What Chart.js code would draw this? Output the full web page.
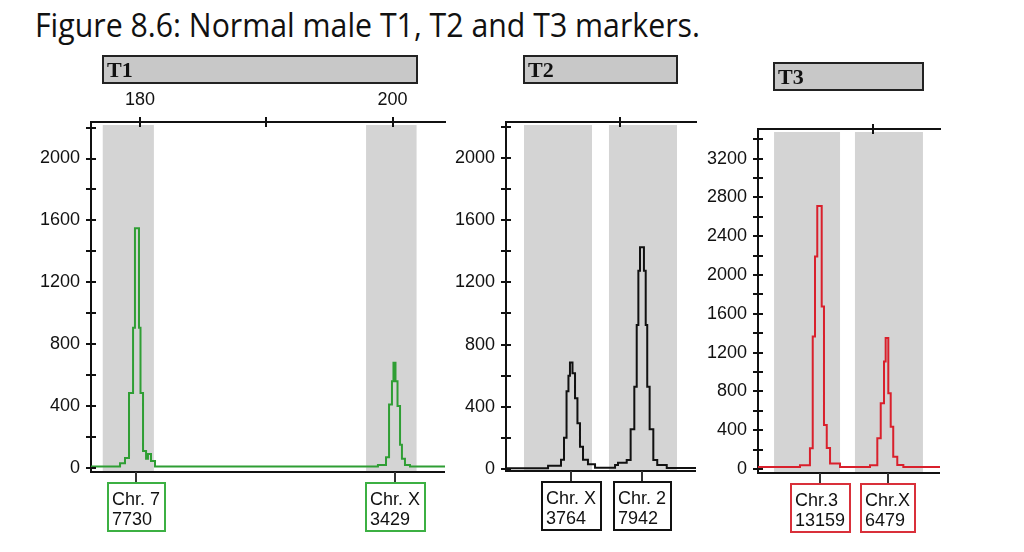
<!DOCTYPE html>
<html>
<head>
<meta charset="utf-8">
<script src="https://cdn.jsdelivr.net/npm/chart.js"></script>
<style>
  body { margin: 0; background: #fff; }
  #page { position: relative; width: 1024px; height: 552px; overflow: hidden; background: #fff; }
  #page canvas { position: absolute; left: 0; top: 0; }
  #caption { position: absolute; left: 35px; top: 2px; font-family: "Open Sans"; font-size: 33px; color: #111; white-space: nowrap; transform-origin: 0 0; }
</style>
</head>
<body>
<div id="page">
  <div id="caption">Figure 8.6: Normal male T1, T2 and T3 markers.</div>
  <canvas id="t1" width="1024" height="552"></canvas>
  <canvas id="t2" width="1024" height="552"></canvas>
  <canvas id="t3" width="1024" height="552"></canvas>
</div>
<script>
// T1 trace (size in bp, signal in RFU), step starts
const t1Bp  = [176.12, 178.42, 178.81, 179.13, 179.45, 179.60, 179.92, 180.04, 180.24, 180.48, 180.63, 180.87, 181.19,
               198.84, 199.48, 199.72, 199.95, 200.07, 200.23, 200.39, 200.59, 200.74, 200.98, 201.38, 204.15];
const t1Rfu = [10, 30, 65, 485, 906, 1550, 906, 485, 110, 60, 90, 45, 10,
               20, 70, 410, 560, 680, 560, 400, 150, 60, 20, 10, 10];
const t1Bins = [[177.05, 181.1], [197.9, 201.9]];
const t1Peaks = [179.68, 200.16];
const t1Names = ['Chr. 7', 'Chr. X'];
const t1Areas = ['7730', '3429'];
const t1SizeLabels = [180, 200];

// T2
const t2Bp  = [251.00, 254.32, 255.34, 255.58, 255.78, 255.93, 256.05, 256.25, 256.45, 256.64, 256.84, 257.08, 257.47, 258.03,
               259.61, 259.84, 260.53, 260.84, 261.13, 261.32, 261.45, 261.58, 261.89, 262.03, 262.15, 262.34, 262.63, 262.94, 263.69, 266.00];
const t2Rfu = [5, 20, 60, 200, 500, 600, 684, 615, 455, 294, 143, 60, 30, 8,
               26, 40, 58, 255, 529, 926, 1275, 1426, 1275, 926, 529, 255, 58, 26, 6, 6];
const t2Bins = [[252.42, 257.79], [259.13, 264.5]];
const t2Peaks = [256.13, 261.74];
const t2Names = ['Chr. X', 'Chr. 2'];
const t2Areas = ['3764', '7942'];
const t2SizeLabels = [];

// T3
const t3Bp  = [140.90, 144.22, 145.01, 145.23, 145.41, 145.59, 145.94, 146.12, 146.34, 146.60, 147.39,
               149.76, 150.34, 150.61, 150.87, 151.00, 151.21, 151.40, 151.60, 151.92, 152.40, 155.30];
const t3Rfu = [20, 40, 213, 1366, 2192, 2710, 1675, 454, 217, 58, 20,
               40, 317, 678, 1108, 1350, 781, 437, 127, 41, 20, 20];
const t3Bins = [[142.17, 147.39], [148.57, 153.95]];
const t3Peaks = [145.8, 151.19];
const t3Names = ['Chr.3', 'Chr.X'];
const t3Areas = ['13159', '6479'];
const t3SizeLabels = [];

Chart.defaults.font.family = '"Liberation Sans"';

// bins, marker bar, inner tick halves, bottom rule and allele boxes
const decor = {
  id: 'decor',
  beforeDatasetsDraw(chart, args, o) {
    const { ctx, chartArea: a, scales: { x } } = chart;
    ctx.save();
    ctx.fillStyle = '#d4d4d4';
    o.bins.forEach(([b0, b1]) => {
      const x0 = x.getPixelForValue(b0), x1 = x.getPixelForValue(b1);
      ctx.fillRect(x0, a.top + 3, x1 - x0, a.bottom - a.top - 3);
    });
    ctx.restore();
  },
  afterDraw(chart, args, o) {
    const { ctx, chartArea: a, scales: { x, y } } = chart;
    ctx.save();
    ctx.strokeStyle = '#111';
    ctx.lineWidth = 2;
    ctx.beginPath();
    y.ticks.forEach(t => {
      const py = Math.round(y.getPixelForValue(t.value));
      ctx.moveTo(a.left, py); ctx.lineTo(a.left + 5, py);
    });
    x.ticks.forEach(t => {
      const px = Math.round(x.getPixelForValue(t.value));
      ctx.moveTo(px, a.top); ctx.lineTo(px, a.top + 5);
    });
    ctx.moveTo(a.left, a.bottom); ctx.lineTo(a.right, a.bottom);
    ctx.stroke();

    const b0 = Math.round(x.getPixelForValue(o.bins[0][0]));
    const b1 = Math.round(x.getPixelForValue(o.bins[o.bins.length - 1][1]));
    const barTop = Math.round(a.top - 66);
    ctx.fillStyle = '#c8c8c8';
    ctx.fillRect(b0, barTop, b1 - b0, 27);
    ctx.strokeStyle = '#222';
    ctx.strokeRect(b0, barTop, b1 - b0, 27);
    ctx.fillStyle = '#111';
    ctx.font = 'bold 22px "Liberation Serif"';
    ctx.fillText(o.marker, b0 + 4, barTop + 21);

    ctx.font = '18px "Liberation Sans"';
    o.peaks.forEach((p, i) => {
      const px = Math.round(x.getPixelForValue(p));
      const w = Math.round(Math.max(ctx.measureText(o.names[i]).width, ctx.measureText(o.areas[i]).width) + 9);
      const bx = Math.round(px - w / 2), by = Math.round(a.bottom + 11);
      ctx.strokeStyle = '#333';
      ctx.beginPath(); ctx.moveTo(px, a.bottom); ctx.lineTo(px, by); ctx.stroke();
      ctx.fillStyle = '#fff';
      ctx.fillRect(bx, by, w, 48);
      ctx.strokeStyle = o.boxColor;
      ctx.strokeRect(bx, by, w, 48);
      ctx.fillStyle = '#111';
      ctx.fillText(o.names[i], bx + 4, by + 22);
      ctx.fillText(o.areas[i], bx + 4, by + 42);
    });
    ctx.restore();
  }
};

function panel(id, c) {
  const tickFont = { family: '"Liberation Sans"', size: 18 };
  new Chart(document.getElementById(id), {
    type: 'line',
    data: {
      datasets: [{
        data: c.bp.map((v, i) => ({ x: v, y: c.rfu[i] })),
        borderColor: c.color,
        borderWidth: 2,
        pointRadius: 0,
        stepped: true,
        fill: false
      }]
    },
    options: {
      responsive: false,
      animation: false,
      devicePixelRatio: 1,
      layout: { padding: c.pad },
      plugins: {
        legend: { display: false },
        tooltip: { enabled: false },
        decor: { bins: c.bins, peaks: c.peaks, names: c.names, areas: c.areas, marker: c.marker, boxColor: c.boxColor }
      },
      scales: {
        x: {
          type: 'linear', position: 'top', min: c.xMin, max: c.xMax,
          afterFit: s => { s.height = 40; },
          border: { color: '#111', width: 2 },
          grid: { drawOnChartArea: false, tickLength: 5, color: '#111', lineWidth: 2 },
          ticks: {
            stepSize: 10, includeBounds: false, autoSkip: false, maxRotation: 0, padding: 6,
            color: '#111', font: tickFont,
            callback: v => c.sizeLabels.includes(v) ? v : ''
          }
        },
        y: {
          type: 'linear', position: 'left', min: c.yMin, max: c.yMax,
          afterFit: s => { s.width = 70; },
          border: { color: '#111', width: 2 },
          grid: { drawOnChartArea: false, tickLength: 5, color: '#111', lineWidth: 2 },
          ticks: {
            stepSize: 200, includeBounds: false, autoSkip: false, padding: 6,
            color: '#111', font: tickFont,
            callback: v => v % 400 === 0 ? v : ''
          }
        }
      }
    },
    plugins: [decor]
  });
}

panel('t1', {
  bp: t1Bp, rfu: t1Rfu, bins: t1Bins, peaks: t1Peaks, names: t1Names, areas: t1Areas, sizeLabels: t1SizeLabels,
  marker: 'T1', color: '#2f9e34', boxColor: '#3cb043',
  xMin: 176.12, xMax: 204.15, yMin: -26, yMax: 2236,
  pad: { left: 21, top: 82, right: 579, bottom: 80 }
});
panel('t2', {
  bp: t2Bp, rfu: t2Rfu, bins: t2Bins, peaks: t2Peaks, names: t2Names, areas: t2Areas, sizeLabels: t2SizeLabels,
  marker: 'T2', color: '#111', boxColor: '#111',
  xMin: 251, xMax: 266, yMin: -13, yMax: 2231,
  pad: { left: 436, top: 82, right: 328, bottom: 81 }
});
panel('t3', {
  bp: t3Bp, rfu: t3Rfu, bins: t3Bins, peaks: t3Peaks, names: t3Names, areas: t3Areas, sizeLabels: t3SizeLabels,
  marker: 'T3', color: '#d9202c', boxColor: '#d9303a',
  xMin: 140.9, xMax: 155.3, yMin: -41, yMax: 3505,
  pad: { left: 688, top: 89, right: 84, bottom: 79 }
});

const cap = document.getElementById('caption');
cap.style.transform = 'scaleX(' + (665 / cap.scrollWidth) + ')';
</script>
</body>
</html>
